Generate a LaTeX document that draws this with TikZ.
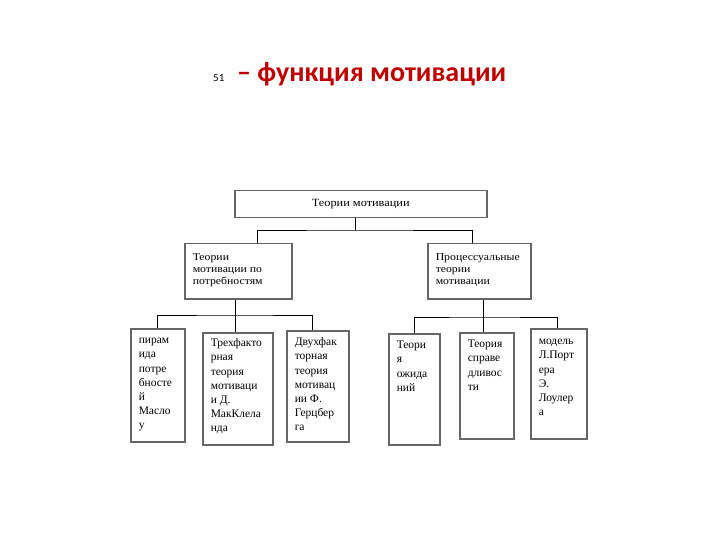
\documentclass[tikz,border=0pt]{standalone}
\usepackage{fontspec}
\setmainfont{Liberation Serif}
\newfontfamily\headfont{Carlito}
\newfontfamily\widefont[FakeStretch=1.12]{Liberation Serif}
\newfontfamily\topfont[FakeStretch=1.12]{Liberation Serif}
\definecolor{headred}{RGB}{192,0,0}

\tikzset{
  box/.style={draw=black!60, line width=1.5bp, inner sep=0pt, anchor=north west},
  link/.style={draw=black, line width=0.9bp},
}
% text box with fixed size, text at the top left
\newcommand{\cell}[5]{\parbox[c][#3bp][t]{#2bp}{\raggedright\leftskip=8bp\relax
  #1\vspace*{#4bp}\strut#5}}
\newcommand{\smalltxt}{\fontsize{11.5bp}{14.2bp}\selectfont}
\newcommand{\midtxt}{\widefont\fontsize{10.5bp}{12bp}\selectfont}

\begin{document}
\begin{tikzpicture}[x=1bp,y=-1bp]
\useasboundingbox (0,0) rectangle (720,540);
\fill[white] (0,0) rectangle (720,540);

\node[anchor=base west, inner sep=0pt, font=\headfont\fontsize{11bp}{13bp}\selectfont] (num) at (213,82) {51};
\node[anchor=base west, inner sep=0pt, text=headred, font=\headfont\bfseries\fontsize{28bp}{32bp}\selectfont] (title) at (237,82) {– функция мотивации};

\node[box] (top) at (234,190) {\parbox[c][27bp]{252bp}{\centering\topfont\fontsize{11bp}{13bp}\selectfont Теории мотивации}};

\node[box] (midL) at (184,243) {\cell{\midtxt}{107}{55}{8.6}{Теории\\мотивации по\\потребностям}};
\node[box] (midR) at (427,243) {\cell{\midtxt}{103}{55}{8.6}{Процессуальные\\теории\\мотивации}};

\node[box] (b1) at (130,328) {\cell{\smalltxt}{54}{113}{5}{пирам\\ида\\потре\\бносте\\й\\Масло\\у}};
\node[box] (b2) at (202,332) {\cell{\smalltxt}{70}{112}{4}{Трехфакто\\рная\\теория\\мотиваци\\и Д.\\МакКлела\\нда}};
\node[box] (b3) at (286,330) {\cell{\smalltxt}{62}{111}{5}{Двухфак\\торная\\теория\\мотивац\\ии Ф.\\Герцбер\\га}};
\node[box] (b4) at (388,333) {\cell{\smalltxt}{51}{111}{5}{Теори\\я\\ожида\\ний}};
\node[box] (b5) at (459,332) {\cell{\smalltxt}{54}{106}{5}{Теория\\справе\\дливос\\ти}};
\node[box] (b6) at (530,328) {\cell{\smalltxt}{56}{110}{6}{модель\\Л.Порт\\ера\\Э.\\Лоулер\\а}};

% upper level
\coordinate (busA) at (355,230);
\draw[link] (busA |- top.south) -- (busA);
\draw[link] ([xshift=19.5bp]midL.north) |- (busA) -| ([xshift=-6.5bp]midR.north);

% left group
\coordinate (busB) at (235,315);
\draw[link] (busB |- midL.south) -- (busB);
\draw[link] (b1.north) |- (busB) -| ([xshift=-5bp]b3.north);
\draw[link] (busB) -- (busB |- b2.north);

% right group
\coordinate (busC) at (483,317);
\draw[link] (busC |- midR.south) -- (busC);
\draw[link] (b4.north) |- (busC) -| ([xshift=-1bp]b6.north);
\draw[link] (busC) -- (busC |- b5.north);
\end{tikzpicture}
\end{document}
